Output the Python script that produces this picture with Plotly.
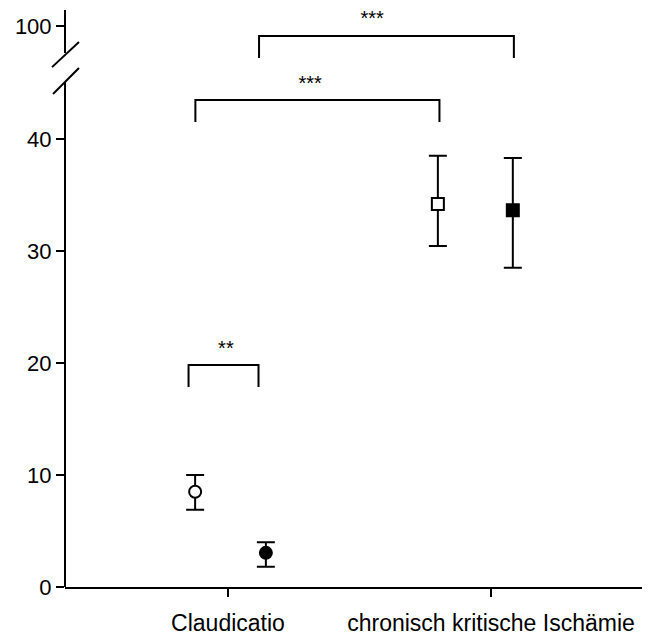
import plotly.graph_objects as go

# ---- data ----
groups = ["Claudicatio", "chronisch kritische Ischämie"]
group_pos = [1, 2]

open_mean = [8.5, 34.2]
open_upper = [10.0, 38.5]
open_lower = [6.9, 30.45]

filled_mean = [3.05, 33.65]
filled_upper = [4.0, 38.3]
filled_lower = [1.8, 28.5]

tick_vals = [0, 10, 20, 30, 40, 50.09]
tick_text = ["0", "10", "20", "30", "40", "100"]

# significance brackets
bracket_x_left = [0.850, 0.876, 1.118]
bracket_x_right = [1.116, 1.804, 2.087]
bracket_y_top = [19.82, 43.48, 49.20]
bracket_y_bottom = [17.86, 41.52, 47.23]
sig_labels = ["**", "***", "***"]
sig_label_x = [0.992, 1.312, 1.548]
sig_label_y = [21.2, 44.86, 50.66]

# ---- layout helpers ----
open_offsets = [-0.125, -0.202]
filled_offsets = [0.144, 0.083]
font = "Liberation Sans, Arial, sans-serif"

x_open = [g + o for g, o in zip(group_pos, open_offsets)]
x_filled = [g + o for g, o in zip(group_pos, filled_offsets)]

fig = go.Figure()


def add_series(xs, means, upper, lower, symbols, fill):
    fig.add_trace(go.Scatter(
        x=xs, y=means, mode="markers",
        marker=dict(symbol=symbols, size=12, color=fill,
                    line=dict(color="black", width=2)),
        error_y=dict(type="data", symmetric=False,
                     array=[u - m for u, m in zip(upper, means)],
                     arrayminus=[m - l for m, l in zip(means, lower)],
                     color="black", thickness=2, width=9),
        showlegend=False, cliponaxis=False,
    ))


add_series(x_open, open_mean, open_upper, open_lower, ["circle", "square"], "white")
add_series(x_filled, filled_mean, filled_upper, filled_lower, ["circle", "square"], "black")

# significance labels as text
fig.add_trace(go.Scatter(
    x=sig_label_x, y=sig_label_y, mode="text", text=sig_labels,
    textposition="middle center",
    textfont=dict(family=font, size=20, color="black"),
    showlegend=False, cliponaxis=False, hoverinfo="skip",
))

shapes = []
for xl, xr, yt, yb in zip(bracket_x_left, bracket_x_right, bracket_y_top, bracket_y_bottom):
    shapes.append(dict(type="path", xref="x", yref="y",
                       path=f"M {xl},{yb} L {xl},{yt} L {xr},{yt} L {xr},{yb}",
                       line=dict(color="black", width=2)))

# y axis line with break
shapes.append(dict(type="line", xref="paper", yref="y", x0=0, x1=0, y0=0, y1=45.09,
                   line=dict(color="black", width=2)))
shapes.append(dict(type="line", xref="paper", yref="y", x0=0, x1=0, y0=47.68, y1=51.52,
                   line=dict(color="black", width=2)))
# break slashes (paper coords)
shapes.append(dict(type="line", xref="paper", yref="paper", x0=-0.0222, y0=0.901,
                   x1=0.0239, y1=0.9445, line=dict(color="black", width=2)))
shapes.append(dict(type="line", xref="paper", yref="paper", x0=-0.0205, y0=0.8544,
                   x1=0.0239, y1=0.8995, line=dict(color="black", width=2)))

# the page body adds an 8px margin, so the figure is sized to fill the rest
fig.update_layout(
    width=642, height=631,
    margin=dict(l=57, r=0, t=2, b=52),
    paper_bgcolor="white", plot_bgcolor="white",
    font=dict(family=font, size=21, color="black"),
    shapes=shapes,
    xaxis=dict(range=[0.3802, 2.6046], tickvals=group_pos, ticktext=groups,
               showline=True, linecolor="black", linewidth=2,
               ticks="outside", ticklen=8, tickwidth=2, tickcolor="black",
               showgrid=False, zeroline=False, fixedrange=True,
               automargin=False, ticklabelstandoff=6, tickfont=dict(size=23)),
    yaxis=dict(range=[0, 51.52], tickvals=tick_vals, ticktext=tick_text,
               showline=False, ticks="outside", ticklen=8, tickwidth=2,
               tickcolor="black", showgrid=False, zeroline=False,
               automargin=False, fixedrange=True, tickfont=dict(size=22)),
)

fig.write_html("out.html")
